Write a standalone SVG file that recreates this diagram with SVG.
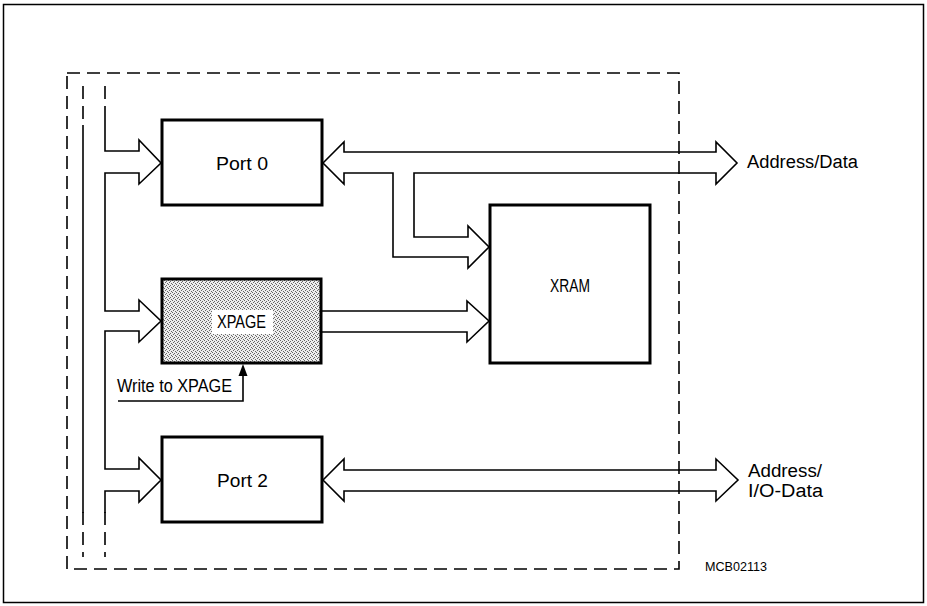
<svg xmlns="http://www.w3.org/2000/svg" width="927" height="606" viewBox="0 0 927 606">
<style>
.box{fill:#fff;stroke:#000;stroke-width:3}
.ln{fill:none;stroke:#000;stroke-width:1.6;stroke-linejoin:miter}
.dash{fill:none;stroke:#000;stroke-width:1.6;stroke-dasharray:13 7}
.t{font-family:"Liberation Sans",Arial,sans-serif;font-size:18px;fill:#000}
.s{font-family:"Liberation Sans",Arial,sans-serif;font-size:13px;fill:#000}
</style>
<defs>
<pattern id="stip" patternUnits="userSpaceOnUse" width="4" height="4">
<rect width="4" height="4" fill="#eeeeee"/>
<rect x="0" y="0" width="1" height="1" fill="#666"/>
<rect x="2" y="1" width="1" height="1" fill="#666"/>
<rect x="1" y="2" width="1" height="1" fill="#666"/>
<rect x="3" y="3" width="1" height="1" fill="#666"/>
</pattern>
</defs>
<rect x="0" y="0" width="927" height="606" fill="#fff"/>
<rect x="3.5" y="4.5" width="920" height="598" fill="none" stroke="#000" stroke-width="1.5"/>
<g id="boundary">
<rect class="dash" x="67" y="73" width="612" height="496"/>
<path class="dash" d="M83,86 V126 M83,512 V557 M105,86 V110 M105,512 V557"/>
</g>
<g id="connectors">
<path class="ln" d="M83,125 V513"/>
<path class="ln" d="M105,110 V151 H139 V140 L161,163 L139,184 V173 H105 V311 H139 V300 L161,321 L139,342 V331 H105 V469 H139 V458 L161,480 L139,502 V491 H105 V513"/>
<path class="ln" d="M323,163 L344,142 V152 H716 V142 L737,163 L716,184 V173 H414 V237 H468 V226 L489,247 L468,268 V257 H393 V173 H344 V184 Z"/>
<path class="ln" d="M322,311 H467 V301 L489,321 L467,342 V332 H322"/>
<path class="ln" d="M323,480 L344,459 V470 H716 V459 L738,480 L716,501 V491 H344 V501 Z"/>
<path class="ln" d="M118,401 H243 V375"/>
<path d="M238.5,376 L243,364 L247.5,376 Z" fill="#000"/>
</g>
<g id="port0">
<rect class="box" x="162" y="120" width="160" height="85"/>
<text class="t" x="216" y="170" textLength="52" lengthAdjust="spacingAndGlyphs">Port 0</text>
</g>
<g id="xpage">
<rect x="162" y="279" width="159" height="84" fill="url(#stip)" stroke="#000" stroke-width="3"/>
<rect x="212" y="310" width="61" height="24" fill="#fff"/>
<text class="t" x="217" y="328" textLength="49" lengthAdjust="spacingAndGlyphs">XPAGE</text>
</g>
<g id="port2">
<rect class="box" x="162" y="437" width="160" height="85"/>
<text class="t" x="217" y="487" textLength="51" lengthAdjust="spacingAndGlyphs">Port 2</text>
</g>
<g id="xram">
<rect class="box" x="490" y="205" width="160" height="158"/>
<text class="t" x="550" y="292" textLength="40" lengthAdjust="spacingAndGlyphs">XRAM</text>
</g>
<g id="labels">
<text class="t" x="117" y="392" textLength="115" lengthAdjust="spacingAndGlyphs">Write to XPAGE</text>
<text class="t" x="747" y="168" textLength="111" lengthAdjust="spacingAndGlyphs">Address/Data</text>
<text class="t" x="748" y="477" textLength="74" lengthAdjust="spacingAndGlyphs">Address/</text>
<text class="t" x="748" y="497" textLength="75" lengthAdjust="spacingAndGlyphs">I/O-Data</text>
<text class="s" x="705" y="571" textLength="62" lengthAdjust="spacingAndGlyphs">MCB02113</text>
</g>
</svg>
